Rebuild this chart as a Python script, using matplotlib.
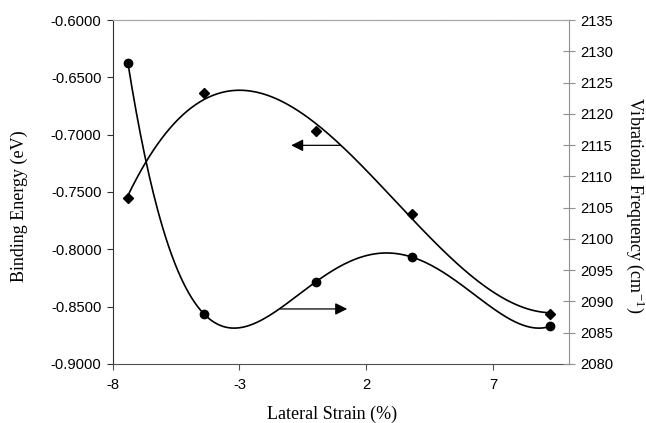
import matplotlib.pyplot as plt
import numpy as np

# lateral strain (%) and the two data series
strain = [-7.4, -4.4, 0.0, 3.8, 9.25]
binding = [-0.755, -0.664, -0.697, -0.769, -0.856]      # eV, left axis
freq = [2128.1, 2088.0, 2093.1, 2097.1, 2086.0]         # cm-1, right axis

xticks = [-8, -3, 2, 7]
yticks_left = [-0.90, -0.85, -0.80, -0.75, -0.70, -0.65, -0.60]
yticks_right = [2080, 2085, 2090, 2095, 2100, 2105, 2110, 2115, 2120, 2125, 2130, 2135]

plt.rcParams['mathtext.fontset'] = 'stix'
serif = 'Liberation Serif'
sans = 'Liberation Sans'

fig = plt.figure(figsize=(6.46, 4.23), dpi=100)
ax = fig.add_axes([0.1745, 0.1395, 0.7063, 0.8132])
ax2 = ax.twinx()

# polynomial trendlines (like spreadsheet trendlines)
xs = np.linspace(min(strain), max(strain), 300)
pb = np.polyfit(strain, binding, 3)
pf = np.polyfit(strain, freq, 4)

ax.plot(xs, np.polyval(pb, xs), color='black', lw=1.2)
ax.plot(strain, binding, 'D', color='black', ms=5)
ax2.plot(xs, np.polyval(pf, xs), color='black', lw=1.2)
ax2.plot(strain, freq, 'o', color='black', ms=6)

ax.set_xlim(-8, 10)
ax.set_ylim(-0.9, -0.6)
ax2.set_ylim(2080, 2135)
ax.set_xticks(xticks)
ax.set_yticks(yticks_left)
ax.set_yticklabels([f"{v:.4f}" for v in yticks_left], family=sans, fontsize=10.6)
ax.set_xticklabels([str(v) for v in xticks], family=sans, fontsize=10.6)
ax2.set_yticks(yticks_right)
ax2.set_yticklabels([str(v) for v in yticks_right], family=sans, fontsize=10.6)

# arrows pointing to the axis each curve belongs to
arrow = dict(arrowstyle='-|>,head_length=0.6,head_width=0.3', color='black', lw=0.9,
             mutation_scale=12, shrinkA=0, shrinkB=0)
ax.annotate('', xy=(-0.96, -0.7093), xytext=(0.97, -0.7093), arrowprops=arrow)
ax.annotate('', xy=(1.25, -0.852), xytext=(-1.4, -0.852), arrowprops=arrow)

# spines and ticks
for a in (ax, ax2):
    a.spines['top'].set_color('#a8a8a8')
    a.spines['top'].set_linestyle((0, (1.5, 0.8)))
ax.spines['left'].set_color('#303030')
ax.spines['bottom'].set_color('#505050')
ax.spines['right'].set_visible(False)
ax2.spines['left'].set_visible(False)
ax2.spines['bottom'].set_visible(False)
ax2.spines['right'].set_color('#909090')
ax.tick_params(axis='y', direction='out', length=4, pad=4, color='#303030')
ax.tick_params(axis='x', direction='out', length=4, pad=6, color='#505050')
ax2.tick_params(axis='y', direction='inout', length=8, pad=4, color='#909090')

ax.set_xlabel('Lateral Strain (%)', family=serif, fontsize=13)
ax.xaxis.set_label_coords(0.48, -0.12)
ax.set_ylabel('Binding Energy (eV)', family=serif, fontsize=13,
              va='center', ha='center', rotation_mode='default')
ax.yaxis.set_label_coords(-0.205, 0.46)
ax2.set_ylabel(r'Vibrational Frequency (cm$^{\mathregular{-1}}$)', family=serif,
               fontsize=13, rotation=270, va='center', ha='center',
               rotation_mode='default')
ax2.yaxis.set_label_coords(1.145, 0.46)

fig.savefig('out.png', dpi=100)
